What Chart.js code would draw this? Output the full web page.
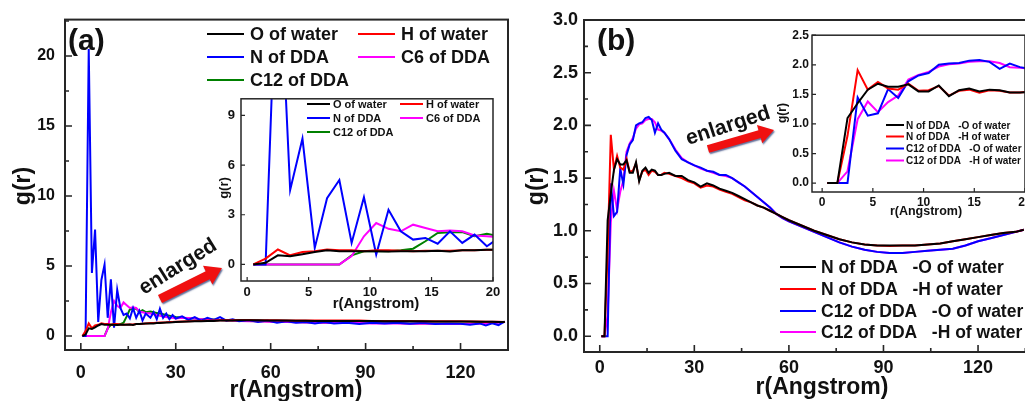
<!DOCTYPE html>
<html>
<head>
<meta charset="utf-8">
<title>g(r) of water and DDA</title>
<script src="https://cdn.jsdelivr.net/npm/chart.js@4.4.1/dist/chart.umd.min.js"></script>
<style>
    html, body { margin: 0; padding: 0; background: #fff; }
    body { position: relative; width: 1025px; height: 401px; overflow: hidden; }
    canvas { position: absolute; }
</style>
</head>
<body>
<canvas id="mainA" style="left:0px;top:0px" width="512" height="401"></canvas>
<canvas id="insetA" style="left:200px;top:85px" width="320" height="230"></canvas>
<canvas id="mainB" style="left:512px;top:0px" width="550" height="401"></canvas>
<canvas id="insetB" style="left:770px;top:25px" width="300" height="200"></canvas>
<script>
const FONT = "'Liberation Sans', Arial, sans-serif";

// r (Angstrom) of the short-range bins, used by both panels and both insets
const rNear = [0.5, 1.5, 2.5, 3.5, 4.5, 5.5, 6.5, 7.5, 8.5, 9.5, 10.5,
    11.5, 12.5, 13.5, 14.5, 15.5, 16.5, 17.5, 18.5, 19.5, 20.5];
// longer range samples of the full plots
const rFarA = [22, 23, 24, 25, 26, 27, 28, 29, 30,
    32, 34, 36, 38, 40, 42, 44, 46, 48, 50,
    53, 56, 59, 62, 65, 68, 71, 74, 77, 80,
    84, 88, 92, 96, 100, 104, 108, 112, 116, 120,
    123, 126, 128, 130, 132, 134];
const rFarB = [22, 24, 26, 28, 30, 32, 34, 36, 38, 40,
    42, 44, 46, 48, 50, 52, 54, 56, 58, 60,
    64, 68, 72, 76, 80, 84, 88, 92, 96, 100,
    104, 108, 112, 116, 120, 124, 128, 132, 134.5];

// panel (a): g(r) around the DDA atoms
const aOwaterNear = [0, 0.1, 0.55, 0.5, 0.62, 0.75, 0.85, 0.8, 0.8, 0.8, 0.8,
    0.78, 0.8, 0.8, 0.8, 0.82, 0.78, 0.85, 0.85, 0.88, 0.9];
const aOwaterFar = [0.9, 0.9, 0.92, 0.93, 0.95, 0.96, 0.97, 0.98, 1.0,
    1.02, 1.03, 1.05, 1.06, 1.08, 1.08, 1.1, 1.1, 1.11, 1.12,
    1.12, 1.12, 1.11, 1.1, 1.1, 1.09, 1.09, 1.08, 1.08, 1.08,
    1.08, 1.07, 1.07, 1.06, 1.06, 1.05, 1.05, 1.04, 1.04, 1.03,
    1.03, 1.02, 1.02, 1.01, 1.0, 1.0];
const aHwaterNear = [0, 0.35, 0.9, 0.55, 0.75, 0.8, 0.9, 0.85, 0.85, 0.8, 0.85,
    0.85, 0.82, 0.8, 0.82, 0.82, 0.82, 0.85, 0.85, 0.88, 0.9];
const aHwaterFar = [0.92, 0.93, 0.95, 0.96, 0.97, 0.98, 1.0, 1.0, 1.02,
    1.04, 1.05, 1.07, 1.08, 1.1, 1.1, 1.12, 1.12, 1.13, 1.14,
    1.14, 1.13, 1.12, 1.12, 1.11, 1.1, 1.1, 1.1, 1.1, 1.1,
    1.1, 1.1, 1.08, 1.08, 1.07, 1.07, 1.06, 1.05, 1.05, 1.05,
    1.04, 1.03, 1.02, 1.02, 1.01, 1.0];
const aNddaNear = [0, 0, 20.5, 4.5, 7.6, 1.0, 4.0, 5.1, 1.3, 4.05, 0.6,
    3.3, 2.0, 1.5, 1.6, 1.25, 2.0, 1.3, 1.8, 1.1, 1.6];
const aNddaFar = [1.3, 1.7, 1.2, 1.95, 1.3, 1.6, 1.2, 1.5, 1.25,
    1.4, 1.15, 1.35, 1.1, 1.3, 1.15, 1.35, 1.1, 1.2, 1.05,
    1.15, 1.0, 1.1, 0.95, 1.05, 0.95, 1.0, 0.9, 1.0, 0.9,
    0.95, 0.85, 0.95, 0.9, 0.95, 0.88, 0.95, 0.85, 0.9, 0.88,
    0.8, 0.9, 0.75, 0.9, 0.78, 1.05];
const aC6Near = [0, 0, 0, 0, 0, 0, 0, 0, 0.5, 1.7, 2.5,
    2.15, 2.0, 2.4, 2.2, 2.0, 2.05, 2.0, 1.75, 1.7, 1.65];
const aC6Far = [1.6, 1.55, 1.5, 1.45, 1.4, 1.35, 1.3, 1.3, 1.25,
    1.3, 1.28, 1.25, 1.2, 1.2, 1.15, 1.15, 1.12, 1.1, 1.08,
    1.05, 1.05, 1.02, 1.0, 1.0, 0.98, 0.97, 0.95, 0.95, 0.93,
    0.93, 0.92, 0.9, 0.9, 0.9, 0.88, 0.88, 0.87, 0.86, 0.85,
    0.86, 0.88, 0.9, 0.92, 0.95, 1.0];
const aC12Near = [0, 0, 0, 0, 0, 0, 0, 0, 0.55, 0.8, 0.8,
    0.8, 0.85, 0.95, 1.4, 1.9, 1.95, 1.95, 1.7, 1.85, 1.7];
const aC12Far = [1.75, 1.7, 1.65, 1.6, 1.55, 1.5, 1.45, 1.4, 1.35,
    1.3, 1.25, 1.25, 1.2, 1.2, 1.18, 1.15, 1.12, 1.1, 1.1,
    1.08, 1.05, 1.05, 1.02, 1.0, 1.0, 0.98, 0.98, 0.95, 0.95,
    0.95, 0.93, 0.93, 0.92, 0.92, 0.9, 0.9, 0.9, 0.88, 0.88,
    0.9, 0.92, 0.95, 0.97, 0.98, 1.0];

// panel (b): N and C12 of DDA against O / H of water
const bNONear = [0, 0, 1.1, 1.35, 1.58, 1.68, 1.63, 1.63, 1.67, 1.55, 1.55,
    1.65, 1.47, 1.57, 1.6, 1.55, 1.58, 1.57, 1.53, 1.53, 1.54];
const bNOFar = [1.55, 1.52, 1.52, 1.48, 1.46, 1.42, 1.45, 1.43, 1.4, 1.38,
    1.36, 1.33, 1.3, 1.27, 1.24, 1.22, 1.19, 1.16, 1.13, 1.1,
    1.05, 1.0, 0.96, 0.92, 0.89, 0.87, 0.86, 0.86, 0.86, 0.86,
    0.87, 0.88, 0.9, 0.92, 0.94, 0.96, 0.98, 0.99, 1.01];
const bNHNear = [0, 0, 0.8, 1.91, 1.58, 1.71, 1.6, 1.58, 1.68, 1.56, 1.57,
    1.64, 1.48, 1.56, 1.58, 1.53, 1.57, 1.56, 1.53, 1.53, 1.55];
const bNHFar = [1.54, 1.52, 1.5, 1.47, 1.45, 1.41, 1.43, 1.42, 1.39, 1.37,
    1.35, 1.32, 1.29, 1.27, 1.24, 1.22, 1.19, 1.16, 1.13, 1.1,
    1.05, 1.0, 0.96, 0.92, 0.89, 0.87, 0.86, 0.855, 0.86, 0.86,
    0.87, 0.88, 0.9, 0.92, 0.94, 0.96, 0.98, 0.99, 1.01];
const bCONear = [0, 0, 0, 1.45, 1.14, 1.18, 1.59, 1.44, 1.72, 1.82, 1.86,
    2.0, 2.02, 2.03, 2.07, 2.08, 2.05, 1.93, 2.02, 1.96, 1.93];
const bCOFar = [1.87, 1.76, 1.68, 1.65, 1.62, 1.6, 1.57, 1.56, 1.53, 1.53,
    1.5, 1.46, 1.42, 1.37, 1.32, 1.27, 1.22, 1.16, 1.12, 1.09,
    1.04, 0.99, 0.94, 0.89, 0.85, 0.82, 0.8, 0.79, 0.79, 0.8,
    0.81, 0.82, 0.83, 0.86, 0.9, 0.93, 0.96, 0.99, 1.01];
const bCHNear = [0, 0, 0.2, 1.08, 1.38, 1.2, 1.37, 1.48, 1.75, 1.83, 1.88,
    1.97, 2.01, 2.02, 2.05, 2.06, 2.06, 2.03, 1.96, 1.95, 1.93];
const bCHFar = [1.87, 1.77, 1.69, 1.65, 1.62, 1.59, 1.57, 1.55, 1.53, 1.52,
    1.5, 1.46, 1.42, 1.37, 1.32, 1.27, 1.22, 1.16, 1.12, 1.09,
    1.04, 0.99, 0.94, 0.89, 0.85, 0.82, 0.8, 0.79, 0.79, 0.8,
    0.81, 0.82, 0.83, 0.86, 0.9, 0.93, 0.96, 0.99, 1.01];

// tick values
const ticksAx = [0, 30, 60, 90, 120];
const ticksAy = [0, 5, 10, 15, 20];
const ticksAinX = [0, 5, 10, 15, 20];
const ticksAinY = [0, 3, 6, 9];
const ticksBx = [0, 30, 60, 90, 120];
const ticksBy = [0, 0.5, 1, 1.5, 2, 2.5, 3];
const ticksBinX = [0, 5, 10, 15, 20];
const ticksBinY = [0, 0.5, 1, 1.5, 2, 2.5];

const labelsA = ['O of water', 'H of water', 'N of DDA', 'C6 of DDA', 'C12 of DDA'];
const labelsB = ['N of DDA   -O of water', 'N of DDA   -H of water',
    'C12 of DDA   -O of water', 'C12 of DDA   -H of water'];
const colorsA = ['#000000', '#ff0000', '#0000ff', '#ff00ff', '#008000'];
const colorsB = ['#000000', '#ff0000', '#0000ff', '#ff00ff'];

function pts(xs, ys) {
    return ys.map((y, i) => ({ x: xs[i], y: y }));
}

// midpoints between the major ticks, used for the short minor ticks
function minorValues(scale) {
    const v = scale.ticks.map(t => t.value);
    const half = (v[1] - v[0]) / 2;
    const out = [];
    for (let m = v[0] - half; m <= scale.max; m += 2 * half) {
        if (m >= scale.min) out.push(m);
    }
    return out;
}

// frame, inward ticks, legend, labels and arrow drawn on top of the plot
const decor = {
    id: 'decor',
    afterDraw(chart, args, o) {
        const ctx = chart.ctx;
        const a = chart.chartArea;
        const ox = o.off[0], oy = o.off[1];
        ctx.save();

        ctx.strokeStyle = '#262626';
        ctx.lineWidth = o.frame;
        ctx.strokeRect(a.left, a.top, a.right - a.left, a.bottom - a.top);

        const xs = chart.scales.x, ys = chart.scales.y;
        ctx.lineWidth = o.frame * 0.8;
        ctx.beginPath();
        const tickX = (v, len) => {
            const p = xs.getPixelForValue(v);
            ctx.moveTo(p, a.bottom); ctx.lineTo(p, a.bottom - len);
        };
        const tickY = (v, len) => {
            const p = ys.getPixelForValue(v);
            ctx.moveTo(a.left, p); ctx.lineTo(a.left + len, p);
        };
        xs.ticks.forEach(t => tickX(t.value, o.major));
        ys.ticks.forEach(t => tickY(t.value, o.major));
        if (o.minor) {
            minorValues(xs).forEach(v => tickX(v, o.minor));
            minorValues(ys).forEach(v => tickY(v, o.minor));
        }
        ctx.stroke();

        // legend
        const lg = o.legend;
        ctx.font = 'bold ' + lg.size + 'px ' + FONT;
        ctx.textBaseline = 'middle';
        ctx.textAlign = 'left';
        chart.data.datasets.forEach((ds, i) => {
            const x = lg.at[i][0] - ox, y = lg.at[i][1] - oy;
            ctx.strokeStyle = ds.borderColor;
            ctx.lineWidth = lg.width;
            ctx.beginPath();
            ctx.moveTo(x, y); ctx.lineTo(x + lg.len, y);
            ctx.stroke();
            ctx.fillStyle = '#111';
            ctx.fillText(ds.label, x + lg.len + lg.gap, y + 1);
        });

        // arrow
        if (o.arrow) {
            const [x0, y0] = [o.arrow.from[0] - ox, o.arrow.from[1] - oy];
            const [x1, y1] = [o.arrow.to[0] - ox, o.arrow.to[1] - oy];
            const d = Math.hypot(x1 - x0, y1 - y0);
            const ux = (x1 - x0) / d, uy = (y1 - y0) / d;
            const nx = -uy, ny = ux;
            const bw = o.arrow.body / 2, hw = o.arrow.head / 2;
            const bx = x1 - ux * o.arrow.headLen, by = y1 - uy * o.arrow.headLen;
            ctx.beginPath();
            ctx.moveTo(x0 + nx * bw, y0 + ny * bw);
            ctx.lineTo(bx + nx * bw, by + ny * bw);
            ctx.lineTo(bx + nx * hw, by + ny * hw);
            ctx.lineTo(x1, y1);
            ctx.lineTo(bx - nx * hw, by - ny * hw);
            ctx.lineTo(bx - nx * bw, by - ny * bw);
            ctx.lineTo(x0 - nx * bw, y0 - ny * bw);
            ctx.closePath();
            ctx.shadowColor = 'rgba(30, 50, 110, 0.7)';
            ctx.shadowOffsetX = 1;
            ctx.shadowOffsetY = 1.5;
            ctx.shadowBlur = 1.5;
            ctx.fillStyle = '#f01010';
            ctx.fill();
            ctx.shadowColor = 'transparent';
        }

        // titles and captions
        ctx.fillStyle = '#111';
        o.texts.forEach(t => {
            ctx.save();
            ctx.translate(t.x - ox, t.y - oy);
            if (t.rot) ctx.rotate(t.rot * Math.PI / 180);
            ctx.font = 'bold ' + t.size + 'px ' + FONT;
            ctx.textAlign = t.align || 'center';
            ctx.textBaseline = 'middle';
            ctx.fillText(t.text, 0, 0);
            ctx.restore();
        });
        ctx.restore();
    }
};

function axis(min, max, ticks, size, fontSize, padding, fmt) {
    return {
        type: 'linear',
        min: min,
        max: max,
        afterBuildTicks: s => { s.ticks = ticks.map(v => ({ value: v })); },
        afterFit: s => {
            if (s.isHorizontal()) s.height = size; else s.width = size;
        },
        grid: { display: false, drawTicks: false },
        border: { display: false },
        ticks: {
            color: '#111',
            font: { family: FONT, size: fontSize, weight: 'bold' },
            padding: padding,
            autoSkip: false,
            maxRotation: 0,
            callback: fmt || (v => String(v))
        }
    };
}

function makeChart(id, series, lineWidth, pad, x, y, decorOpts) {
    return new Chart(document.getElementById(id), {
        type: 'line',
        data: {
            datasets: series.map(s => ({
                label: s.label,
                data: s.data,
                borderColor: s.color,
                backgroundColor: s.color,
                borderWidth: lineWidth,
                pointRadius: 0,
                tension: 0,
                fill: false
            }))
        },
        options: {
            responsive: false,
            animation: false,
            devicePixelRatio: 1,
            layout: { padding: pad },
            plugins: {
                legend: { display: false },
                tooltip: { enabled: false },
                decor: decorOpts
            },
            scales: { x: x, y: y }
        },
        plugins: [decor]
    });
}

const rA = rNear.concat(rFarA);
const rB = rNear.concat(rFarB);
const fixed1 = v => v.toFixed(1);

const nearA = [aOwaterNear, aHwaterNear, aNddaNear, aC6Near, aC12Near];
const farA = [aOwaterFar, aHwaterFar, aNddaFar, aC6Far, aC12Far];
const nearB = [bNONear, bNHNear, bCONear, bCHNear];
const farB = [bNOFar, bNHFar, bCOFar, bCHFar];

// (a) full range
makeChart('mainA',
    labelsA.map((l, i) => ({ label: l, color: colorsA[i], data: pts(rA, nearA[i].concat(farA[i])) })),
    2, { left: 0, top: 19, right: 4, bottom: 0 },
    axis(-5, 135, ticksAx, 51, 18, 12),
    axis(-1, 22.6, ticksAy, 65, 16, 10),
    {
        off: [0, 0], frame: 2, major: 7, minor: 4,
        legend: { size: 18, len: 37, gap: 6, width: 2,
            at: [[207, 34], [358, 34], [207, 57], [358, 57], [207, 80]] },
        arrow: { from: [160, 299], to: [222, 268], body: 9, head: 21, headLen: 16 },
        texts: [
            { text: '(a)', x: 68, y: 42, size: 30, align: 'left' },
            { text: 'g(r)', x: 24, y: 186, size: 23, rot: -90 },
            { text: 'r(Angstrom)', x: 296, y: 391, size: 23 },
            { text: 'enlarged', x: 178, y: 267, size: 21, rot: -32 }
        ]
    });

// (a) short range enlarged
makeChart('insetA',
    labelsA.map((l, i) => ({ label: l, color: colorsA[i], data: pts(rNear, nearA[i]) })),
    2, { left: 0, top: 9, right: 27, bottom: 0 },
    axis(-0.5, 20, ticksAinX, 34, 13, 4),
    axis(-1, 10, ticksAinY, 41, 13, 6),
    {
        off: [200, 85], frame: 1.5, major: 4, minor: 0,
        legend: { size: 11, len: 23, gap: 3, width: 2,
            at: [[307, 104], [400, 104], [307, 118], [400, 118], [307, 132]] },
        texts: [
            { text: 'g(r)', x: 224, y: 188, size: 13, rot: -90 },
            { text: 'r(Angstrom)', x: 376, y: 304, size: 15 }
        ]
    });

// (b) full range
makeChart('mainB',
    labelsB.map((l, i) => ({ label: l, color: colorsB[i], data: pts(rB, nearB[i].concat(farB[i])) })),
    2, { left: 0, top: 20, right: 2, bottom: 0 },
    axis(-5, 146, ticksBx, 49, 18, 5),
    axis(-0.15, 3.0, ticksBy, 72, 18, 6, fixed1),
    {
        off: [512, 0], frame: 2, major: 7, minor: 4,
        legend: { size: 17.5, len: 36, gap: 5, width: 2,
            at: [[780, 267], [780, 289], [780, 311], [780, 332]] },
        arrow: { from: [708, 149], to: [774, 130], body: 8, head: 19, headLen: 15 },
        texts: [
            { text: '(b)', x: 597, y: 42, size: 30, align: 'left' },
            { text: 'g(r)', x: 537, y: 186, size: 23, rot: -90 },
            { text: 'r(Angstrom)', x: 822, y: 388, size: 23 },
            { text: 'enlarged', x: 728, y: 126, size: 21, rot: -18 }
        ]
    });

// (b) short range enlarged
makeChart('insetB',
    labelsB.map((l, i) => ({ label: l, color: colorsB[i], data: pts(rNear, nearB[i]) })),
    2, { left: 0, top: 10, right: 45, bottom: 0 },
    axis(-1, 20, ticksBinX, 33, 12, 3),
    axis(-0.15, 2.5, ticksBinY, 42, 12, 3, fixed1),
    {
        off: [770, 25], frame: 1.5, major: 4, minor: 0,
        legend: { size: 10, len: 18, gap: 2, width: 2,
            at: [[886, 125], [886, 136.5], [886, 148.5], [886, 160.5]] },
        texts: [
            { text: 'g(r)', x: 783, y: 113, size: 12, rot: -90 },
            { text: 'r(Angstrom)', x: 926, y: 212, size: 12.5 }
        ]
    });
</script>
</body>
</html>
